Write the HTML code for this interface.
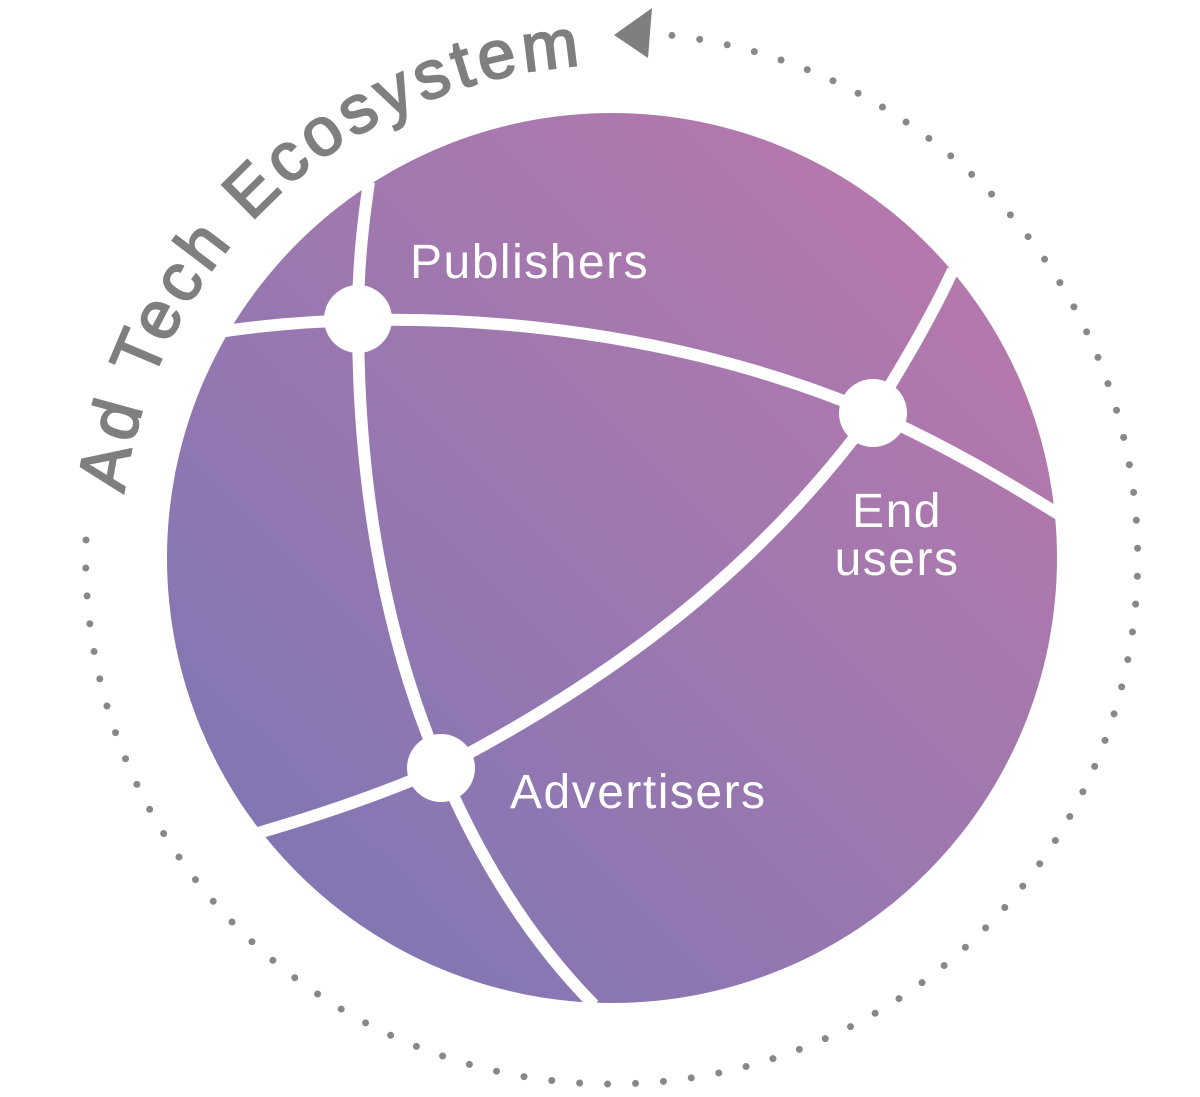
<!DOCTYPE html>
<html><head><meta charset="utf-8"><style>
html,body{margin:0;padding:0;background:#fff;}
svg{display:block;}
</style></head><body>
<svg width="1200" height="1097" viewBox="0 0 1200 1097" xmlns="http://www.w3.org/2000/svg">
<defs>
<linearGradient id="g" x1="0" y1="1" x2="1" y2="0">
<stop offset="0" stop-color="#7876b4"/>
<stop offset="1" stop-color="#bf79ab"/>
</linearGradient>
<path id="tp" d="M150,726 A492,492 0 1 1 1104,558"/>
</defs>
<circle cx="612" cy="558" r="445" fill="url(#g)"/>
<g fill="none" stroke="#fff" stroke-width="12">
<path d="M225,331 C400,306 650,318 873,413 C950,448 1000,478 1060,515"/>
<path d="M369,182 C362,230 358,270 358,319 C358,500 390,650 441,768 C480,860 530,940 594,1005"/>
<path d="M953,270 C930,320 900,370 873,413 C780,540 650,660 441,768 C380,795 320,815 258,833"/>
</g>
<g fill="#fff">
<circle cx="358" cy="319" r="34"/>
<circle cx="873" cy="413" r="34"/>
<circle cx="441" cy="768" r="34"/>
</g>
<g fill="#fff" font-family="Liberation Sans, sans-serif" font-size="48" letter-spacing="1.5">
<text x="410" y="278">Publishers</text>
<text x="897" y="527" text-anchor="middle">End</text>
<text x="897" y="575" text-anchor="middle">users</text>
<text x="510" y="808">Advertisers</text>
</g>
<path d="M86,540 A526,526 0 1 0 658,34" fill="none" stroke="#888" stroke-width="7" stroke-linecap="round" stroke-dasharray="0 28"/>
<polygon points="614,35 652,8 648,58" fill="#7f7f7f"/>
<text font-family="Liberation Sans, sans-serif" font-size="68" fill="#7f7f7f" stroke="#7f7f7f" stroke-width="2"><textPath href="#tp" startOffset="236" textLength="678" lengthAdjust="spacing">Ad Tech Ecosystem</textPath></text>
</svg>
</body></html>
